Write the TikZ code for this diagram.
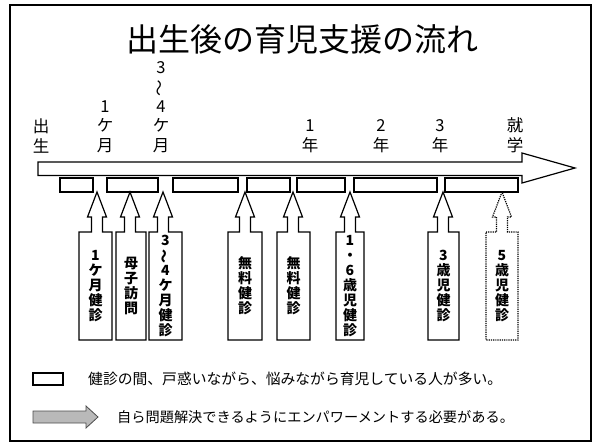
\documentclass[tikz,border=0pt]{standalone}
\usepackage{fontspec}
\usepackage{graphicx}
\newfontfamily\jp{Noto Sans CJK JP}
\newcommand\vwave{\rotatebox[origin=c]{90}{～}}
\tikzset{
  frame/.style={line width=1.6},
  tl/.style={line width=1.2, fill=white},
  gapbox/.style={line width=1.2, fill=white},
  kbox/.style={line width=1.2, fill=white},
  kboxdot/.style={line width=1.2, densely dotted, fill=white},
  toplabel/.style={font=\jp\fontsize{16.5}{19.5}\selectfont, align=center, inner sep=0, anchor=south},
  vtext/.style={font=\jp\bfseries\fontsize{14}{15}\selectfont, align=center, inner sep=0},
  legtext/.style={anchor=west, inner sep=0},
}
\newcommand\kenshin[6]{%
  \draw[#6] (#2,232) -- (#4-5.5,232) -- (#4-5.5,217) -- (#4-9.5,217) -- (#4,192) -- (#4+9.5,217) -- (#4+5.5,217) -- (#4+5.5,232) -- (#3,232) -- (#3,340) -- (#2,340) -- cycle;
  \node[vtext] (#1) at ({(#2+#3)/2},286) {#5};
}
\begin{document}
\begin{tikzpicture}[x=1pt,y=-1pt]
\useasboundingbox (0,0) rectangle (593,442);
\draw[frame] (10,5) rectangle (591,441);

% title
\node[font=\jp\fontsize{32}{36}\selectfont, inner sep=0] (title) at (302,39) {出生後の育児支援の流れ};

% top labels
\node[toplabel] (lbirth) at (41,153) {出\\生};
\node[toplabel] (l1m) at (105,153) {1\\ケ\\月};
\node[toplabel] (l34m) at (161,153) {3\\\vwave\\4\\ケ\\月};
\node[toplabel] (l1y) at (310,153) {1\\年};
\node[toplabel] (l2y) at (381,153) {2\\年};
\node[toplabel] (l3y) at (440,153) {3\\年};
\node[toplabel] (lschool) at (515,153) {就\\学};

% timeline arrow
\draw[tl] (38,162) -- (522,162) -- (522,153) -- (575,168) -- (522,183) -- (522,175.5) -- (38,175.5) -- cycle;

% gap boxes
\foreach \a/\b in {60/93,107/158,173/238,247/290,297/345,354/437,445/518}
  \draw[gapbox] (\a,178) rectangle (\b,192);

% checkup boxes with arrows
\kenshin{k1}{79}{112}{97}{1\\ケ\\月\\健\\診}{kbox}
\kenshin{k2}{116}{146}{130}{母\\子\\訪\\問}{kbox}
\kenshin{k3}{149}{182}{163}{3\\\vwave\\4\\ケ\\月\\健\\診}{kbox}
\kenshin{k4}{228}{262}{245}{無\\料\\健\\診}{kbox}
\kenshin{k5}{277}{310}{293}{無\\料\\健\\診}{kbox}
\kenshin{k6}{336}{364}{350}{1\\・\\6\\歳\\児\\健\\診}{kbox}
\kenshin{k7}{428}{459}{443}{3\\歳\\児\\健\\診}{kbox}
\kenshin{k8}{486}{518}{502}{5\\歳\\児\\健\\診}{kboxdot}

% legend
\draw[gapbox] (33,373) rectangle (63,385);
\node[legtext, font=\jp\fontsize{14.8}{17}\selectfont] (leg1) at (88,379) {健診の間、戸惑いながら、悩みながら育児している人が多い。};
\draw[fill=gray!55, draw=gray!60!black, line width=0.8] (33,411) -- (86,411) -- (86,406) -- (98,417) -- (86,428) -- (86,423) -- (33,423) -- cycle;
\node[legtext, font=\jp\fontsize{14.2}{17}\selectfont] (leg2) at (117,417) {自ら問題解決できるようにエンパワーメントする必要がある。};
\end{tikzpicture}
\end{document}
